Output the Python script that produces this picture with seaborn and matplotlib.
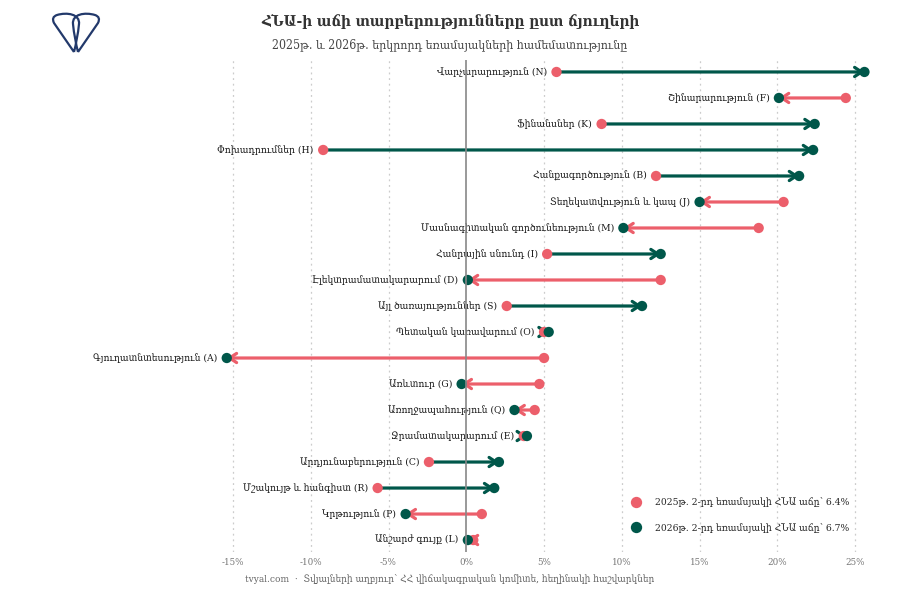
import numpy as np
import pandas as pd
import matplotlib
matplotlib.use("Agg")
import matplotlib.pyplot as plt
import seaborn as sns
from matplotlib.path import Path
from matplotlib.patches import PathPatch

sectors = [
    "Վարչարարություն (N)",
    "Շինարարություն (F)",
    "Ֆինանսներ (K)",
    "Փոխադրումներ (H)",
    "Հանքագործություն (B)",
    "Տեղեկատվություն և կապ (J)",
    "Մասնագիտական գործունեություն (M)",
    "Հանրային սնունդ (I)",
    "Էլեկտրամատակարարում (D)",
    "Այլ ծառայություններ (S)",
    "Պետական կառավարում (O)",
    "Գյուղատնտեսություն (A)",
    "Առևտուր (G)",
    "Առողջապահություն (Q)",
    "Ջրամատակարարում (E)",
    "Արդյունաբերություն (C)",
    "Մշակույթ և հանգիստ (R)",
    "Կրթություն (P)",
    "Անշարժ գույք (L)",
]
growth_2025 = [5.8, 24.4, 8.7, -9.2, 12.2, 20.4, 18.8, 5.2, 12.5, 2.6, 5.0, 5.0, 4.7, 4.4, 3.7, -2.4, -5.7, 1.0, 0.45]
growth_2026 = [25.6, 20.1, 22.4, 22.3, 21.4, 15.0, 10.1, 12.5, 0.1, 11.3, 5.3, -15.4, -0.3, 3.1, 3.9, 2.1, 1.8, -3.9, 0.1]
legend_labels = ["2025թ․ 2-րդ եռամսյակի ՀՆԱ աճը՝ 6.4%", "2026թ․ 2-րդ եռամսյակի ՀՆԱ աճը՝ 6.7%"]
xticks = [-15, -10, -5, 0, 5, 10, 15, 20, 25]

RED = "#ec5f6b"
GREEN = "#00574a"
NAVY = "#22396b"

sns.set_style("white")
plt.rcParams["font.family"] = ["DejaVu Serif"]
plt.rcParams["font.stretch"] = "condensed"

df = pd.DataFrame({"sector": sectors, "y2025": growth_2025, "y2026": growth_2026})
df["row"] = np.arange(len(df))

fig = plt.figure(figsize=(9, 6), dpi=100)
ax = fig.add_axes([200 / 900, 1 - 552 / 600, 680 / 900, 492 / 600])

for x in xticks:
    if x != 0:
        ax.axvline(x, color="#cccccc", lw=0.9, ls=(0, (1.5, 3)), zorder=0)

for _, r in df.iterrows():
    col = GREEN if r.y2026 >= r.y2025 else RED
    ax.annotate("", xy=(r.y2026, r.row), xytext=(r.y2025, r.row),
                arrowprops=dict(arrowstyle="->,head_length=0.5,head_width=0.33", color=col, lw=2.3,
                                shrinkA=0, shrinkB=0), zorder=2)
    lo = min(r.y2025, r.y2026)
    ax.text(lo - 0.6, r.row, r.sector, ha="right", va="center", fontsize=7.4, color="#1a1a1a", zorder=3)

long = df.melt(id_vars=["sector", "row"], value_vars=["y2025", "y2026"], var_name="year", value_name="growth")
long["year"] = long["year"].map({"y2025": legend_labels[0], "y2026": legend_labels[1]})
sns.scatterplot(data=long, x="growth", y="row", hue="year", palette=[RED, GREEN], s=55,
                edgecolor="none", ax=ax, zorder=4)

ax.axvline(0, color="#888888", lw=1.2, zorder=5)

ax.set_xlim(-17.12, 26.6)
ax.set_ylim(18.46, -0.46)
ax.set_xticks(xticks)
ax.set_xticklabels([f"{x}%" for x in xticks], fontsize=7, color="#777777")
ax.set_yticks([])
ax.set_xlabel("")
ax.set_ylabel("")
ax.tick_params(axis="x", length=0, pad=4)
for s in ax.spines.values():
    s.set_visible(False)

leg = ax.legend(loc="lower right", bbox_to_anchor=(0.969, 0.02), frameon=False, fontsize=7.4,
                handletextpad=0.9, labelspacing=1.5, markerscale=1.1)

fig.text(0.5, 0.965, "ՀՆԱ-ի աճի տարբերությունները ըստ ճյուղերի", ha="center", va="center",
         fontsize=11, fontweight="bold", color="#333333")
fig.text(0.5, 0.925, "2025թ․ և 2026թ․ երկրորդ եռամսյակների համեմատությունը", ha="center", va="center",
         fontsize=8.8, color="#444444")
fig.text(0.5, 0.035, "tvyal.com  ·  Տվյալների աղբյուր՝ ՀՀ վիճակագրական կոմիտե, հեղինակի հաշվարկներ",
         ha="center", va="center", fontsize=7.2, color="#666666")

# logo
lax = fig.add_axes([40 / 900, 1 - 60 / 600, 72 / 900, 55 / 600])
lax.set_xlim(40, 112)
lax.set_ylim(60, 5)
lax.axis("off")
codes = [Path.MOVETO, Path.LINETO, Path.CURVE3, Path.CURVE3,
         Path.CURVE4, Path.CURVE4, Path.CURVE4, Path.CURVE4, Path.CURVE4, Path.CURVE4]
left = [(74, 52), (54, 23), (51, 17), (57, 15), (67, 12), (80, 14), (79, 24), (78, 34), (76, 44), (74, 52)]
right = [(152 - x, y) for x, y in left]
for pts in (left, right):
    lax.add_patch(PathPatch(Path(pts, codes), fill=False, ec=NAVY, lw=1.6))

fig.savefig("out.png", dpi=100)
